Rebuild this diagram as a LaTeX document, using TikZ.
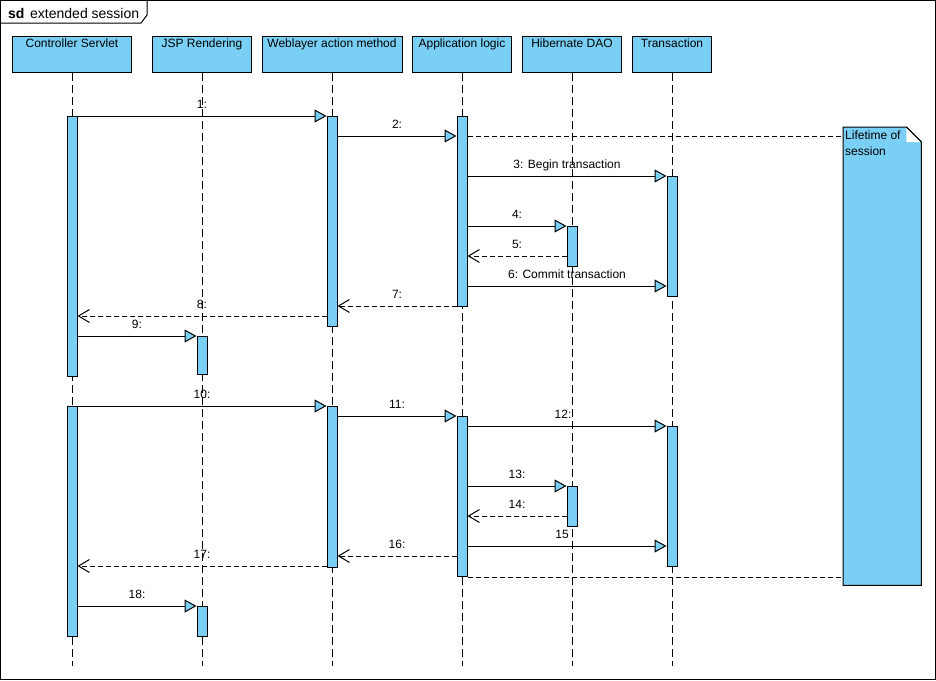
\documentclass[tikz,border=0pt]{standalone}
\usepackage{fontspec}
\setmainfont{Liberation Sans}
\usetikzlibrary{arrows.meta}
\definecolor{vpblue}{RGB}{122,207,245}
\begin{document}
\begin{tikzpicture}[x=1pt,y=-1pt,
  every node/.style={font=\fontsize{12}{16}\selectfont},
  head/.style={draw, fill=vpblue, line width=1pt, anchor=north, inner xsep=0pt, inner ysep=2pt,
    minimum height=36pt, text height=9pt, text depth=23pt},
  bar/.style={draw, fill=vpblue, line width=1pt, anchor=north, minimum width=10pt, inner sep=0pt},
  lifeline/.style={line width=1pt, dash pattern=on 8pt off 4pt},
  call/.style={draw, line width=1pt, -{Triangle[length=12pt,width=13pt,fill=vpblue]}},
  ret/.style={draw, line width=1pt, dash pattern=on 5pt off 3pt, -{Straight Barb[length=11pt,width=13pt]}},
  lbl/.style={midway, anchor=base, yshift=8pt, inner sep=0pt},
  notelink/.style={draw, line width=1pt, dash pattern=on 5pt off 3pt}]
\useasboundingbox (0,0) rectangle (936,680);
% frame
\draw[line width=1pt] (0.5,0.5) rectangle (935,679);
\draw[line width=1pt] (0.5,23) -- (141,23) -- (147,15) -- (147,0.5);
\node[anchor=base west, inner sep=0pt, font=\fontsize{14}{16}\selectfont\bfseries] (sd) at (8,18) {sd};
\node[anchor=base west, inner sep=0pt, font=\fontsize{14}{16}\selectfont] (title) at (30,18) {extended session};
% heads
\node[head, minimum width=119pt] (ctl) at (72,36) {Controller Servlet};
\node[head, minimum width=99pt] (jsp) at (202,36) {JSP Rendering};
\node[head, minimum width=140pt] (web) at (332,36) {Weblayer action method};
\node[head, minimum width=99pt] (app) at (462,36) {Application logic};
\node[head, minimum width=99pt] (dao) at (572,36) {Hibernate DAO};
\node[head, minimum width=79pt] (trx) at (672,36) {Transaction};
% lifelines
\foreach \h in {ctl,jsp,web,app,dao,trx}
  \draw[lifeline] (\h.south) -- (\h.south |- 0,666);
% activation bars
\node[bar, minimum height=260pt] (c1) at (72,116) {};
\node[bar, minimum height=230pt] (c2) at (72,406) {};
\node[bar, minimum height=38pt] (j1) at (202,336) {};
\node[bar, minimum height=30pt] (j2) at (202,606) {};
\node[bar, minimum height=210pt] (w1) at (332,116) {};
\node[bar, minimum height=161pt] (w2) at (332,406) {};
\node[bar, minimum height=190pt] (a1) at (462,116) {};
\node[bar, minimum height=160pt] (a2) at (462,416) {};
\node[bar, minimum height=40pt] (h1) at (572,226) {};
\node[bar, minimum height=40pt] (h2) at (572,486) {};
\node[bar, minimum height=120pt] (t1) at (672,176) {};
\node[bar, minimum height=140pt] (t2) at (672,426) {};
% messages, first round
\path[call] (c1.east |- 0,116) -- (w1.west |- 0,116) node[lbl]{1:};
\path[call] (w1.east |- 0,136) -- (a1.west |- 0,136) node[lbl]{2:};
\path[call] (a1.east |- 0,176) -- (t1.west |- 0,176) node[lbl]{3: Begin transaction};
\path[call] (a1.east |- 0,226) -- (h1.west |- 0,226) node[lbl]{4:};
\path[ret] (h1.west |- 0,256) -- (a1.east |- 0,256) node[lbl]{5:};
\path[call] (a1.east |- 0,286) -- (t1.west |- 0,286) node[lbl]{6: Commit transaction};
\path[ret] (a1.west |- 0,306) -- (w1.east |- 0,306) node[lbl]{7:};
\path[ret] (w1.west |- 0,316) -- (c1.east |- 0,316) node[lbl]{8:};
\path[call] (c1.east |- 0,336) -- (j1.west |- 0,336) node[lbl]{9:};
% messages, second round
\path[call] (c2.east |- 0,406) -- (w2.west |- 0,406) node[lbl]{10:};
\path[call] (w2.east |- 0,416) -- (a2.west |- 0,416) node[lbl]{11:};
\path[call] (a2.east |- 0,426) -- (t2.west |- 0,426) node[lbl, xshift=-4pt]{12:};
\path[call] (a2.east |- 0,486) -- (h2.west |- 0,486) node[lbl]{13:};
\path[ret] (h2.west |- 0,516) -- (a2.east |- 0,516) node[lbl]{14:};
\path[call] (a2.east |- 0,546) -- (t2.west |- 0,546) node[lbl, xshift=-5pt]{15};
\path[ret] (a2.west |- 0,556) -- (w2.east |- 0,556) node[lbl]{16:};
\path[ret] (w2.west |- 0,566) -- (c2.east |- 0,566) node[lbl]{17:};
\path[call] (c2.east |- 0,606) -- (j2.west |- 0,606) node[lbl]{18:};
% note
\node[anchor=north west, minimum width=78pt, minimum height=458pt, inner sep=0pt] (note) at (843,127) {};
\filldraw[fill=vpblue, line width=1pt] (note.north west) -- ([xshift=-15pt]note.north east)
  -- ([yshift=-15pt]note.north east) -- (note.south east) -- (note.south west) -- cycle;
\node[anchor=north west, align=left, inner sep=0pt] (notetext) at (845,131) {Lifetime of\\session};
\fill[white] ([xshift=-15pt]note.north east) -- ([yshift=-15pt]note.north east)
  -- ([xshift=-15pt,yshift=-15pt]note.north east) -- cycle;
\draw[line width=1pt] ([xshift=-15pt]note.north east) -- ([yshift=-15pt]note.north east);
\path[notelink] (a1.east |- 0,136) -- (note.west |- 0,136);
\path[notelink] (a2.south east) -- (note.west |- a2.south east);
\end{tikzpicture}
\end{document}
